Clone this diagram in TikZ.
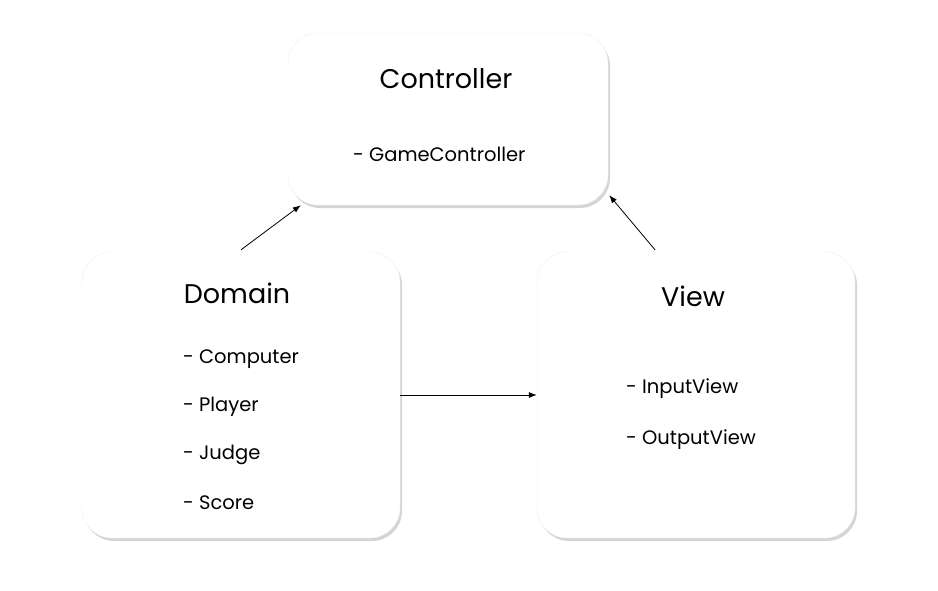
\documentclass[tikz,border=0pt]{standalone}
\usepackage{fontspec}
\setmainfont{Poppins}
\usetikzlibrary{arrows.meta,calc,shadows}

\tikzset{
  layer/.style={rectangle, rounded corners=30pt, fill=white, draw=black!6,
    drop shadow={shadow xshift=2pt, shadow yshift=-3pt, opacity=0.3, fill=black!55}},
  title/.style={font=\fontsize{27}{32}\selectfont},
  item/.style={anchor=west, inner sep=0pt, font=\fontsize{19.5}{23}\selectfont}
}

\begin{document}
\begin{tikzpicture}[x=1pt, y=-1pt]
  \useasboundingbox (0,0) rectangle (938,590);
  % the three layers
  \node[layer, minimum width=320pt, minimum height=172pt] (ctl) at (448,119) {};
  \node[layer, minimum width=318pt, minimum height=286pt] (dom) at (241,395) {};
  \node[layer, minimum width=318pt, minimum height=286pt] (view) at (696,395) {};
  % titles and members
  \node[title] (ctl-t) at (446,79) {Controller};
  \node[item] (ctl-1) at (353,154) {- GameController};
  \node[title] (dom-t) at (237,293) {Domain};
  \node[item] (dom-1) at (183,359) {- Computer};
  \node[item] (dom-2) at (183,407) {- Player};
  \node[item] (dom-3) at (183,455) {- Judge};
  \node[item] (dom-4) at (183,503) {- Score};
  \node[title] (view-t) at (693,296) {View};
  \node[item] (view-1) at (626,389) {- InputView};
  \node[item] (view-2) at (626,440) {- OutputView};
  \path[-{Latex[length=8pt,width=6pt]}, line width=0.8pt]
    ($(dom.north)+(0,-2)$) edge ($(ctl.south west)+(13,0)$)
    ($(view.north)+(-41,-2)$) edge ($(ctl.south east)+(1,-10)$)
    (dom.east) edge (view.west);
\end{tikzpicture}
\end{document}
